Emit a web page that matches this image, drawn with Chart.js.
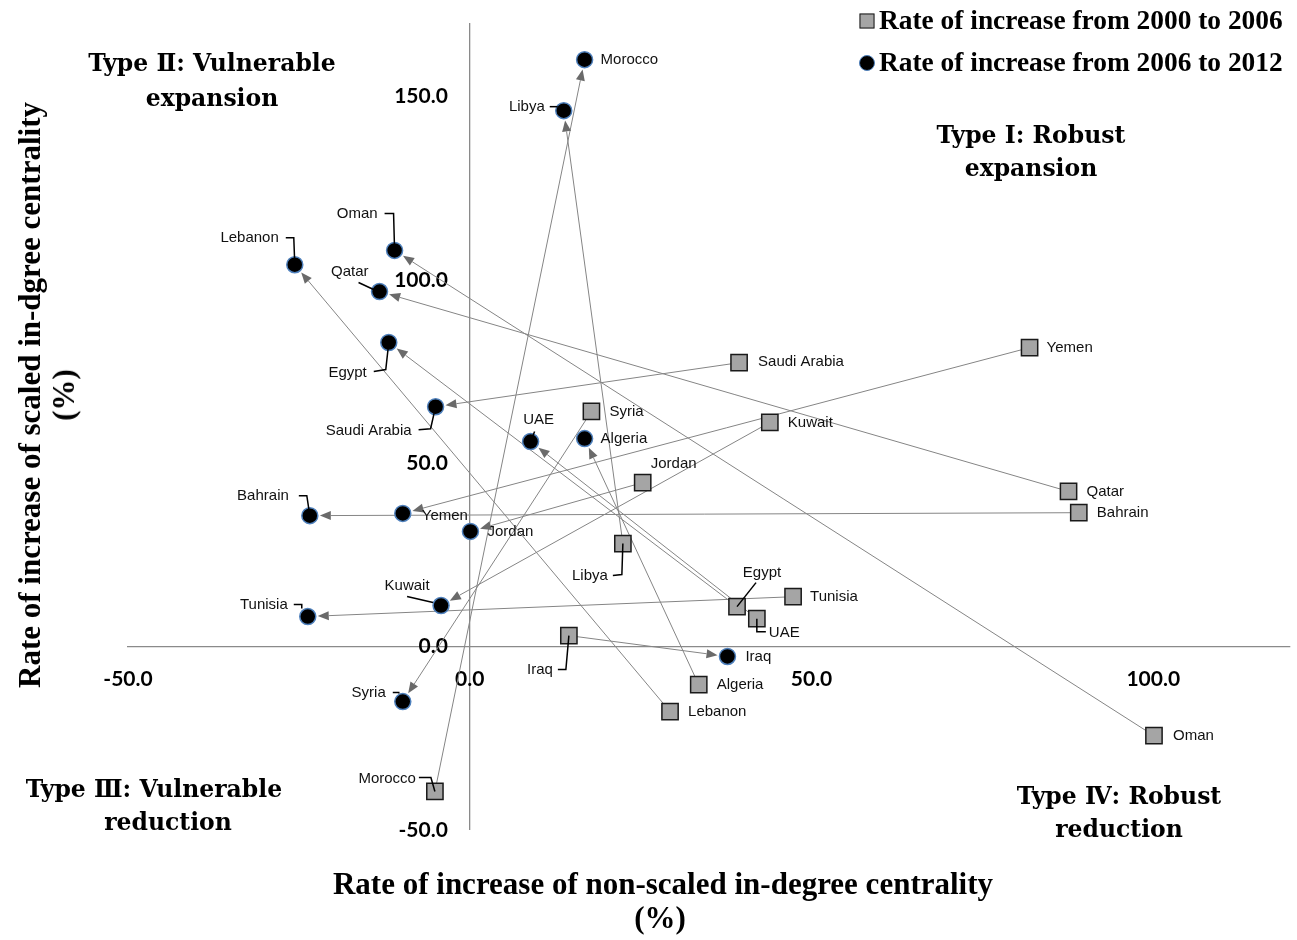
<!DOCTYPE html>
<html>
<head>
<meta charset="utf-8">
<script src="https://cdn.jsdelivr.net/npm/chart.js@4.4.0/dist/chart.umd.min.js"></script>
<style>
html,body{margin:0;padding:0;background:#fff;}
#wrap{position:relative;width:1297px;height:940px;overflow:hidden;background:#fff;}
#c{position:absolute;left:0;top:0;}
.t{position:absolute;white-space:nowrap;transform:translate(-50%,-50%);color:#000;}
.q{font-family:"DejaVu Serif",serif;font-weight:bold;font-size:23.5px;}
.ax{font-family:"Liberation Serif","Times New Roman",serif;font-weight:bold;font-size:31px;}
.lg{position:absolute;white-space:nowrap;font-family:"Liberation Serif","Times New Roman",serif;font-weight:bold;font-size:27.4px;color:#000;transform:translateY(-50%);}
.sq{position:absolute;width:13px;height:13px;background:#a5a5a5;border:1.5px solid #1a1a1a;transform:translate(-50%,-50%);}
.ci{position:absolute;width:14px;height:14px;border-radius:50%;background:#000;border:1.5px solid #4f81bd;transform:translate(-50%,-50%);}
</style>
</head>
<body>
<div id="wrap">
<canvas id="c" width="1297" height="940"></canvas>

<div class="sq" style="left:867px;top:21px;"></div>
<div class="lg" style="left:879px;top:20px;">Rate of increase from 2000 to 2006</div>
<div class="ci" style="left:867px;top:63px;"></div>
<div class="lg" style="left:879px;top:62px;">Rate of increase from 2006 to 2012</div>

<div class="t q" style="left:212px;top:63px;">Type Ⅱ: Vulnerable</div>
<div class="t q" style="left:212px;top:98px;">expansion</div>
<div class="t q" style="left:1031px;top:135px;">Type Ⅰ: Robust</div>
<div class="t q" style="left:1031px;top:168px;">expansion</div>
<div class="t q" style="left:154px;top:789px;">Type Ⅲ: Vulnerable</div>
<div class="t q" style="left:168px;top:822px;">reduction</div>
<div class="t q" style="left:1119px;top:796px;">Type Ⅳ: Robust</div>
<div class="t q" style="left:1119px;top:829px;">reduction</div>

<div class="t ax" style="left:663px;top:884px;">Rate of increase of non-scaled in-degree centrality</div>
<div class="t ax" style="left:660px;top:918px;">(%)</div>
<div class="t ax" style="left:30px;top:395px;transform:translate(-50%,-50%) rotate(-90deg);">Rate of increase of scaled in-dgree centrality</div>
<div class="t ax" style="left:64px;top:395px;transform:translate(-50%,-50%) rotate(-90deg);">(%)</div>
</div>

<script>
// ---- Data ----
const countries = ["Morocco","Libya","Oman","Lebanon","Qatar","Egypt","Saudi Arabia","UAE","Algeria","Bahrain","Yemen","Jordan","Kuwait","Tunisia","Iraq","Syria"];
// Rate of increase from 2000 to 2006 (non-scaled x, scaled y)
const x2006 = [-5.1, 22.4, 100.1, 29.3, 87.6, 39.1, 39.4, 42.0, 33.5, 89.1, 81.9, 25.3, 43.9, 47.3, 14.5, 17.8];
const y2006 = [-39.5, 28.1, -24.3, -17.7, 42.3, 10.9, 77.4, 7.6, -10.4, 36.5, 81.5, 44.7, 61.1, 13.6, 3.0, 64.1];
// Rate of increase from 2006 to 2012
const x2012 = [16.8, 13.75, -11.0, -25.6, -13.2, -11.85, -5.0, 8.9, 16.8, -23.4, -9.8, 0.1, -4.2, -23.7, 37.7, -9.8];
const y2012 = [160.0, 146.1, 108.0, 104.1, 96.8, 82.9, 65.4, 55.9, 56.7, 35.7, 36.3, 31.4, 11.2, 8.2, -2.7, -15.0];
const xTickValues = [-50, 0, 50, 100];
const yTickValues = [-50, 0, 50, 100, 150];
const seriesNames = ["Rate of increase from 2000 to 2006", "Rate of increase from 2006 to 2012"];

// ---- Label placement (pixel offsets, leader polylines) ----
const labels2006 = {
  "Yemen":{dx:17,dy:0,a:"left"}, "Saudi Arabia":{dx:19,dy:-1,a:"left"}, "Kuwait":{dx:18,dy:0,a:"left"},
  "Syria":{dx:18,dy:0,a:"left"}, "Jordan":{dx:8,dy:-19,a:"left"}, "Qatar":{dx:18,dy:0,a:"left"},
  "Bahrain":{dx:18,dy:0,a:"left"}, "Libya":{dx:-15,dy:32,a:"right",l:[[0,0],[-1,31],[-10,32]]},
  "Tunisia":{dx:17,dy:0,a:"left"}, "Egypt":{dx:25,dy:-34,a:"center",l:[[0,0],[19,-24]]},
  "UAE":{dx:12,dy:14,a:"left",l:[[0,0],[0,13],[9,13]]}, "Iraq":{dx:-16,dy:34,a:"right",l:[[0,0],[-3,34],[-11,34]]},
  "Algeria":{dx:18,dy:0,a:"left"}, "Lebanon":{dx:18,dy:0,a:"left"}, "Oman":{dx:19,dy:0,a:"left"},
  "Morocco":{dx:-19,dy:-13,a:"right",l:[[0,0],[-4,-14],[-16,-14]]}
};
const labels2012 = {
  "Morocco":{dx:16,dy:0,a:"left"}, "Libya":{dx:-19,dy:-4,a:"right",l:[[-6,-4],[-14,-4]]},
  "Oman":{dx:-17,dy:-37,a:"right",l:[[0,0],[-1,-37],[-10,-37]]},
  "Lebanon":{dx:-16,dy:-27,a:"right",l:[[0,0],[-1,-27],[-9,-27]]},
  "Qatar":{dx:-11,dy:-20,a:"right",l:[[-6,-2],[-21,-9]]},
  "Egypt":{dx:-22,dy:30,a:"right",l:[[0,0],[-3,27],[-15,29]]},
  "Saudi Arabia":{dx:-24,dy:24,a:"right",l:[[0,0],[-5,22],[-17,23]]},
  "UAE":{dx:8,dy:-22,a:"center",l:[[0,0],[4,-10]]},
  "Algeria":{dx:16,dy:0,a:"left"},
  "Bahrain":{dx:-21,dy:-20,a:"right",l:[[0,0],[-3,-20],[-11,-20]]},
  "Yemen":{dx:19,dy:2,a:"left"}, "Jordan":{dx:17,dy:0,a:"left"},
  "Kuwait":{dx:-34,dy:-20,a:"center",l:[[-8,-3],[-34,-9]]},
  "Tunisia":{dx:-20,dy:-12,a:"right",l:[[-6,-8],[-6,-12],[-14,-12]]},
  "Iraq":{dx:18,dy:0,a:"left"},
  "Syria":{dx:-17,dy:-9,a:"right",l:[[-4,-8],[-4,-9],[-10,-9]]}
};

const pts2006 = countries.map((c,i)=>({x:x2006[i], y:y2006[i], name:c}));
const pts2012 = countries.map((c,i)=>({x:x2012[i], y:y2012[i], name:c}));

const arrowPlugin = {
  id:'arrows',
  beforeDatasetsDraw(chart){
    const ctx = chart.ctx, xs = chart.scales.x, ys = chart.scales.y;
    ctx.save();
    ctx.strokeStyle = '#858585'; ctx.fillStyle = '#6a6a6a'; ctx.lineWidth = 1;
    countries.forEach((c,i)=>{
      const x1 = xs.getPixelForValue(x2006[i]), y1 = ys.getPixelForValue(y2006[i]);
      const x2 = xs.getPixelForValue(x2012[i]), y2 = ys.getPixelForValue(y2012[i]);
      const dx = x2-x1, dy = y2-y1, L = Math.hypot(dx,dy), ux = dx/L, uy = dy/L;
      const gap = 10, ah = 11, aw = 4.5;
      const ex = x2-ux*gap, ey = y2-uy*gap;
      const bx = ex-ux*ah, by = ey-uy*ah;
      ctx.beginPath(); ctx.moveTo(x1,y1); ctx.lineTo(bx,by); ctx.stroke();
      ctx.beginPath(); ctx.moveTo(ex,ey); ctx.lineTo(bx-uy*aw, by+ux*aw); ctx.lineTo(bx+uy*aw, by-ux*aw); ctx.closePath(); ctx.fill();
    });
    ctx.restore();
  },
  afterDatasetsDraw(chart){
    const ctx = chart.ctx, xs = chart.scales.x, ys = chart.scales.y;
    ctx.save();
    ctx.font = '15px "Liberation Sans", Arial, sans-serif';
    ctx.fillStyle = '#111'; ctx.textBaseline = 'middle';
    ctx.strokeStyle = '#000'; ctx.lineWidth = 1.5;
    const draw = (xa, ya, conf) => {
      countries.forEach((c,i)=>{
        const cf = conf[c]; if(!cf) return;
        const px = xs.getPixelForValue(xa[i]), py = ys.getPixelForValue(ya[i]);
        if(cf.l){
          ctx.beginPath();
          cf.l.forEach((p,k)=>{ if(k===0) ctx.moveTo(px+p[0],py+p[1]); else ctx.lineTo(px+p[0],py+p[1]); });
          ctx.stroke();
        }
        ctx.textAlign = cf.a;
        ctx.fillText(c, px+cf.dx, py+cf.dy);
      });
    };
    draw(x2006, y2006, labels2006);
    draw(x2012, y2012, labels2012);
    ctx.restore();
  }
};

const tickFont = {family:'Lato', weight:'bold', size:21};
const axisColor = '#8a8a8a';
const noPad = (s)=>{ s.paddingLeft = 0; s.paddingRight = 0; s.paddingTop = 0; s.paddingBottom = 0; };

new Chart(document.getElementById('c'), {
  type:'scatter',
  data:{
    datasets:[
      {label:seriesNames[0], data:pts2006, pointStyle:'rect', pointRadius:11.5, pointHoverRadius:11.5,
       backgroundColor:'#a5a5a5', borderColor:'#1a1a1a', borderWidth:1.5, order:2},
      {label:seriesNames[1], data:pts2012, pointStyle:'circle', pointRadius:8, pointHoverRadius:8,
       backgroundColor:'#000000', borderColor:'#4f81bd', borderWidth:1.5, order:1}
    ]
  },
  options:{
    responsive:false, animation:false, events:[],
    layout:{autoPadding:false, padding:{left:128, right:7, top:23, bottom:110}},
    plugins:{legend:{display:false}, tooltip:{enabled:false}},
    scales:{
      x:{type:'linear', position:{y:0}, min:-50, max:120, afterFit:noPad,
         afterBuildTicks:(s)=>{ s.ticks = xTickValues.map(v=>({value:v})); },
         ticks:{callback:(v)=>Number(v).toFixed(1), font:tickFont, color:'#000', padding:20, maxRotation:0, autoSkip:false},
         grid:{display:true, drawTicks:false, lineWidth:1.3,
               color:(c)=> (c.tick && c.tick.value===0) ? axisColor : 'rgba(0,0,0,0)'},
         border:{display:true, color:axisColor, width:1.3}},
      y:{type:'linear', position:{x:-3.2}, min:-50, max:170, afterFit:noPad,
         afterBuildTicks:(s)=>{ s.ticks = yTickValues.map(v=>({value:v})); },
         ticks:{callback:(v)=>Number(v).toFixed(1), font:tickFont, color:'#000', padding:0, autoSkip:false},
         grid:{display:false, drawTicks:false},
         border:{display:false}}
    }
  },
  plugins:[arrowPlugin]
});
</script>
</body>
</html>
